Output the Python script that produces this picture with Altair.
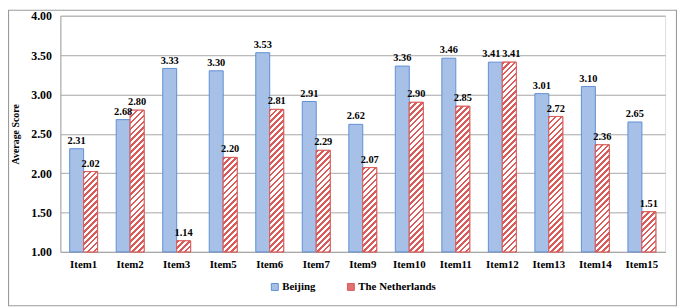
import altair as alt

items = ["Item1", "Item2", "Item3", "Item5", "Item6", "Item7", "Item9",
         "Item10", "Item11", "Item12", "Item13", "Item14", "Item15"]
beijing = [2.31, 2.68, 3.33, 3.30, 3.53, 2.91, 2.62, 3.36, 3.46, 3.41, 3.01, 3.10, 2.65]
netherlands = [2.02, 2.80, 1.14, 2.20, 2.81, 2.29, 2.07, 2.90, 2.85, 3.41, 2.72, 2.36, 1.51]
series = ["Beijing", "The Netherlands"]

W, H = 612, 239
Y0, Y1 = 1.0, 4.0
FONT = "Liberation Serif"
BLUE_STROKE = "#5F8FD3"
BLUE_FILL = "#A6C0E8"
RED = "#D95C5A"
GRID = "#A6A6A6"

# bar width in px (13 bands, paddingInner .4, paddingOuter .2, two bars per band)
step = W / (len(items) - 0.4 + 0.4)
bar_w = step * 0.6 / 2
PERIOD = 6.0
RED_FRAC = 0.45


def stripe_gradient(v):
    """diagonal red/white stripes at 45 degrees inside a bar (style only)."""
    h = max((v - Y0) / (Y1 - Y0) * H, 1.0)
    w = bar_w
    t = (1 / h + 1 / w) / (1 / h ** 2 + 1 / w ** 2)
    n = (w + h) / PERIOD
    stops = []
    k = 0
    while k < n:
        a = k / n
        b = min((k + RED_FRAC) / n, 1.0)
        c = min((k + 1) / n, 1.0)
        stops += [{"offset": a, "color": RED}, {"offset": b, "color": RED},
                  {"offset": b, "color": "#ffffff"}, {"offset": c, "color": "#ffffff"}]
        k += 1
    return {"gradient": "linear", "x1": 0, "y1": 0, "x2": t / h, "y2": t / w,
            "stops": stops}


rows = []
for i, it in enumerate(items):
    rows.append({"item": it, "country": series[0], "value": beijing[i]})
    rows.append({"item": it, "country": series[1], "value": netherlands[i],
                 "grad": stripe_gradient(netherlands[i])})
data = alt.Data(values=rows)

x_enc = alt.X("item:N", sort=items, scale=alt.Scale(paddingInner=0.4, paddingOuter=0.2),
              axis=alt.Axis(title=None, labelAngle=0, ticks=False, tickSize=0,
                            labelPadding=7, labelFont=FONT, labelFontWeight="bold",
                            labelFontSize=11, labelColor="black", domainColor=GRID,
                            grid=False))
xo_enc = alt.XOffset("country:N", scale=alt.Scale(domain=series, paddingInner=0, paddingOuter=0))
y_enc = alt.Y("value:Q", stack=None,
              scale=alt.Scale(domain=[Y0, Y1], nice=False, zero=False),
              axis=alt.Axis(title="Average Score", values=[1, 1.5, 2, 2.5, 3, 3.5, 4],
                            format=".2f", ticks=False, tickSize=0, labelPadding=9,
                            labelFont=FONT, labelFontWeight="bold", labelFontSize=12,
                            labelColor="black", titleFont=FONT, titleFontWeight="bold",
                            titleFontSize=10, titleColor="black", titlePadding=10,
                            gridColor=GRID, domainColor=GRID))

legend = alt.Legend(title=None, orient="none", direction="horizontal",
                    legendX=211.5, legendY=269, symbolType="square",
                    symbolSize=49, symbolStrokeWidth=1, labelFont=FONT,
                    labelFontWeight="bold", labelFontSize=11,
                    labelColor="black", labelOffset=2, columnPadding=30,
                    padding=0)

base = alt.Chart(data)

bars = base.mark_bar(strokeWidth=1).encode(
    x=x_enc, xOffset=xo_enc, y=y_enc, y2=alt.datum(Y0),
    color=alt.Color("country:N", scale=alt.Scale(domain=series, range=[BLUE_FILL, "#DE7270"]),
                    legend=legend),
    stroke=alt.Stroke("country:N", scale=alt.Scale(domain=series, range=[BLUE_STROKE, RED]),
                      legend=legend),
)

stripes = base.transform_filter(alt.datum.country == series[1]).mark_bar(
    stroke=RED, strokeWidth=1).encode(
    x=x_enc, xOffset=xo_enc, y=y_enc, y2=alt.datum(Y0),
    fill=alt.Fill("grad:N", scale=None),
)

text_style = dict(baseline="bottom", dy=-3, font=FONT, fontWeight="bold",
                  fontSize=10.5, color="black")
text_enc = dict(x=x_enc, xOffset=xo_enc, y=y_enc, text=alt.Text("value:Q", format=".2f"))

# labels of Item12 sit side by side in the reference, nudged apart
labels = base.transform_filter(alt.datum.item != "Item12").mark_text(**text_style).encode(**text_enc)
labels_b12 = base.transform_filter(
    (alt.datum.item == "Item12") & (alt.datum.country == series[0])
).mark_text(dx=-4, **text_style).encode(**text_enc)
labels_n12 = base.transform_filter(
    (alt.datum.item == "Item12") & (alt.datum.country == series[1])
).mark_text(dx=2, **text_style).encode(**text_enc)

border = alt.Chart(alt.Data(values=[{"a": 1}])).mark_rect(
    filled=False, stroke="#9A9A9A", strokeWidth=1.2).encode(
    x=alt.value(-52.5), x2=alt.value(W + 11.5), y=alt.value(-5.5), y2=alt.value(H + 54.5))

chart = alt.layer(bars, stripes, labels, labels_b12, labels_n12, border).properties(
    width=W, height=H,
    autosize=alt.AutoSizeParams(type="none"),
    padding={"left": 53, "top": 6, "right": 12, "bottom": 55},
).configure_view(stroke=None).configure(background="white")

chart.save("out.html", embed_options={"renderer": "svg", "actions": False})
